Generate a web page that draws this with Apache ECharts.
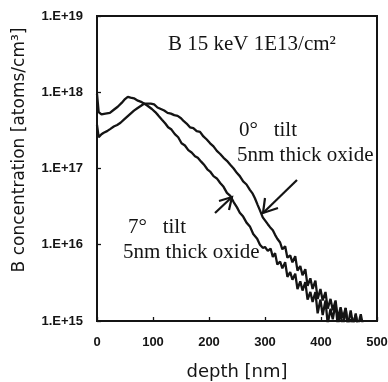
<!DOCTYPE html>
<html>
<head>
  <meta charset="utf-8">
  <script src="https://cdn.jsdelivr.net/npm/echarts@6/dist/echarts.min.js"></script>
  <style>
    html, body { margin: 0; padding: 0; background: #fff; }
    #main { width: 388px; height: 382px; }
  </style>
</head>
<body>
  <div id="main"></div>
  <script>
    // depth in nm, concentration in atoms/cm3
    var depth7 = [0, 3, 8, 15, 23, 30, 37, 44, 50, 55, 60, 66, 73, 80, 89, 98, 104, 109, 116, 122,
      127, 133, 139, 145, 151, 157, 163, 169, 175, 180, 186, 192, 197, 202, 208, 214, 220, 226, 232, 238,
      244, 250, 255, 261, 267, 273, 279, 286, 291, 296, 300, 305, 310, 314, 318, 322, 327, 331, 336, 340,
      345, 349, 354, 358, 363, 367, 372, 376, 381, 385, 390, 394, 399, 403, 408, 412, 417, 421, 426, 430,
      435, 439, 444, 448, 453, 457, 462, 466];
    var conc7 = [9.55e17, 5.50e17, 5.13e17, 5.25e17, 5.37e17, 5.89e17, 6.46e17, 7.24e17, 8.13e17, 8.71e17,
      8.51e17, 8.32e17, 7.76e17, 7.41e17, 6.76e17, 6.03e17, 5.50e17, 5.01e17, 4.37e17, 3.89e17,
      3.47e17, 3.24e17, 2.82e17, 2.57e17, 2.14e17, 2.00e17, 1.74e17, 1.62e17, 1.45e17, 1.38e17,
      1.23e17, 1.10e17, 9.77e16, 9.12e16, 7.94e16, 7.41e16, 6.46e16, 5.75e16, 4.79e16, 4.37e16,
      3.63e16, 3.09e16, 2.63e16, 2.34e16, 1.95e16, 1.74e16, 1.38e16, 1.20e16, 1.00e16, 9.12e15,
      9.33e15, 8.32e15, 8.91e15, 6.92e15, 7.76e15, 5.50e15, 6.03e15, 4.90e15, 5.89e15, 3.80e15,
      4.37e15, 3.47e15, 4.17e15, 2.63e15, 3.31e15, 2.51e15, 3.24e15, 1.91e15, 2.40e15, 1.78e15,
      2.40e15, 1.26e15, 1.91e15, 1.20e15, 1.86e15, 9.12e14, 1.45e15, 1.05e15, 1.70e15, 8.51e14,
      1.32e15, 7.94e14, 1.48e15, 8.51e14, 1.05e15, 7.94e14, 1.26e15, 7.94e14];

    var depth0 = [0, 3, 8, 12, 18, 24, 30, 36, 42, 48, 54, 60, 66, 72, 78, 84, 90, 96, 102, 108,
      114, 120, 126, 132, 138, 144, 150, 155, 160, 166, 172, 178, 184, 190, 196, 202, 208, 214, 220, 226,
      232, 238, 244, 250, 255, 261, 267, 273, 278, 282, 287, 291, 296, 300, 305, 309, 314, 318, 322, 327,
      331, 336, 340, 345, 349, 354, 358, 363, 367, 372, 376, 381, 385, 390, 394, 399, 403, 408, 412, 417,
      421, 426, 430, 435, 439, 444, 448, 453, 457, 462, 466, 471, 476];
    var conc0 = [3.72e17, 2.57e17, 2.82e17, 2.95e17, 3.09e17, 3.31e17, 3.55e17, 3.72e17, 3.98e17, 4.37e17,
      4.79e17, 5.25e17, 5.75e17, 6.17e17, 6.61e17, 7.08e17, 7.08e17, 7.08e17, 6.92e17, 6.31e17,
      6.03e17, 5.75e17, 5.37e17, 5.25e17, 5.01e17, 4.90e17, 4.57e17, 4.17e17, 3.89e17, 3.47e17,
      3.39e17, 3.09e17, 3.02e17, 2.63e17, 2.40e17, 2.14e17, 1.95e17, 1.70e17, 1.55e17, 1.38e17,
      1.26e17, 1.12e17, 1.00e17, 8.71e16, 7.94e16, 6.76e16, 6.17e16, 5.25e16, 4.68e16, 4.07e16,
      3.31e16, 2.82e16, 2.29e16, 2.09e16, 1.86e16, 1.70e16, 1.55e16, 1.35e16, 1.20e16, 1.07e16,
      8.71e15, 9.55e15, 6.76e15, 7.24e15, 5.89e15, 7.08e15, 4.57e15, 5.25e15, 3.98e15, 4.79e15,
      2.88e15, 3.63e15, 2.63e15, 3.39e15, 1.95e15, 2.63e15, 1.86e15, 2.40e15, 1.45e15, 1.95e15,
      1.38e15, 1.86e15, 1.07e15, 1.51e15, 1.10e15, 1.48e15, 8.71e14, 1.38e15, 9.12e14, 1.20e15,
      8.51e14, 1.23e15, 7.94e14];

    var xTicks = [0, 100, 200, 300, 400, 500];
    var yMin = 1e15, yMax = 1e19;

    function pairs(xs, ys) {
      return xs.map(function (x, i) { return [x, ys[i]]; });
    }

    var ink = '#141414';
    var serif = '"Liberation Serif", "DejaVu Serif", serif';
    var sans = '"DejaVu Sans", sans-serif';
    var tickFont = '"Liberation Sans", Arial, sans-serif';

    var chart = echarts.init(document.getElementById('main'), null, { renderer: 'canvas' });
    var option = {
      animation: false,
      backgroundColor: '#fff',
      grid: {
        left: 97, top: 16, width: 280, height: 305,
        outerBoundsMode: 'none', containLabel: false,
        show: true, borderColor: ink, borderWidth: 2, backgroundColor: 'transparent'
      },
      xAxis: {
        type: 'value',
        min: xTicks[0], max: xTicks[xTicks.length - 1], interval: 100,
        axisLine: { show: false },
        axisTick: { show: true, inside: true, length: 4, lineStyle: { color: ink, width: 1.3 } },
        splitLine: { show: false },
        axisLabel: { color: ink, fontFamily: tickFont, fontWeight: 'bold', fontSize: 13, margin: 15 },
        name: 'depth [nm]', nameLocation: 'middle', nameGap: 42,
        nameTextStyle: { color: ink, fontFamily: sans, fontSize: 18 }
      },
      yAxis: {
        type: 'log', logBase: 10, min: yMin, max: yMax, splitNumber: 4,
        axisLine: { show: false },
        axisTick: { show: true, inside: true, length: 4, lineStyle: { color: ink, width: 1.3 } },
        minorTick: { show: false },
        splitLine: { show: false },
        axisLabel: {
          color: ink, fontFamily: tickFont, fontWeight: 'bold', fontSize: 13, margin: 14,
          formatter: function (v) { return '1.E+' + Math.round(Math.log10(v)); }
        }
      },
      series: [
        {
          name: '7° tilt', type: 'line', showSymbol: false, clip: true,
          lineStyle: { color: ink, width: 2.3 },
          data: pairs(depth7, conc7)
        },
        {
          name: '0° tilt', type: 'line', showSymbol: false, clip: true,
          lineStyle: { color: ink, width: 2.3 },
          data: pairs(depth0, conc0)
        }
      ],
      graphic: [
        { type: 'text', x: 20, y: 150, rotation: Math.PI / 2,
          style: { text: 'B concentration [atoms/cm³]', font: '17px ' + sans, fill: ink,
            textAlign: 'center', textVerticalAlign: 'middle' } },
        { type: 'text', x: 168, y: 44,
          style: { text: 'B 15 keV 1E13/cm²', font: '21px ' + serif, fill: ink, textVerticalAlign: 'middle' } },
        { type: 'text', x: 239, y: 130,
          style: { text: '0°   tilt', font: '21px ' + serif, fill: ink, textVerticalAlign: 'middle' } },
        { type: 'text', x: 237, y: 155,
          style: { text: '5nm thick oxide', font: '21px ' + serif, fill: ink, textVerticalAlign: 'middle' } },
        { type: 'text', x: 128, y: 227,
          style: { text: '7°   tilt', font: '21px ' + serif, fill: ink, textVerticalAlign: 'middle' } },
        { type: 'text', x: 123, y: 252,
          style: { text: '5nm thick oxide', font: '21px ' + serif, fill: ink, textVerticalAlign: 'middle' } },
        // arrow to the 0° curve
        { type: 'polyline', shape: { points: [[297, 180], [263, 213]] }, style: { stroke: ink, lineWidth: 2.2, fill: null } },
        { type: 'polyline', shape: { points: [[265, 198], [263, 213], [278, 208]] }, style: { stroke: ink, lineWidth: 2.2, fill: null } },
        // arrow to the 7° curve
        { type: 'polyline', shape: { points: [[215, 213], [232, 197]] }, style: { stroke: ink, lineWidth: 2.2, fill: null } },
        { type: 'polyline', shape: { points: [[219, 201], [232, 197], [229, 210]] }, style: { stroke: ink, lineWidth: 2.2, fill: null } }
      ]
    };
    chart.setOption(option);
  </script>
</body>
</html>
